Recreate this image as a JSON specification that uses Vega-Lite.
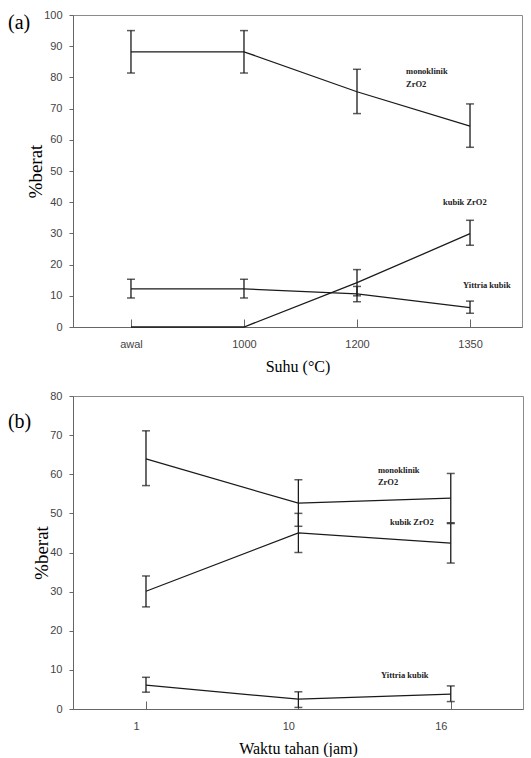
{
  "$schema": "https://vega.github.io/schema/vega-lite/v6.json",
  "padding": {"left": 7, "top": 8, "right": 0, "bottom": 0},
  "background": "white",
  "spacing": 14,
  "datasets": {
    "a": [
      {"s": "mono", "i": 0, "v": 88.2, "lo": 81.4, "hi": 95},
      {"s": "mono", "i": 1, "v": 88.2, "lo": 81.4, "hi": 95},
      {"s": "mono", "i": 2, "v": 75.4, "lo": 68.4, "hi": 82.6},
      {"s": "mono", "i": 3, "v": 64.4, "lo": 57.6, "hi": 71.5},
      {"s": "kubik", "i": 0, "v": 0, "lo": null, "hi": null},
      {"s": "kubik", "i": 1, "v": 0, "lo": null, "hi": null},
      {"s": "kubik", "i": 2, "v": 14.2, "lo": 10, "hi": 18.4},
      {"s": "kubik", "i": 3, "v": 29.9, "lo": 26.2, "hi": 34.2},
      {"s": "yittria", "i": 0, "v": 12.2, "lo": 9.3, "hi": 15.3},
      {"s": "yittria", "i": 1, "v": 12.2, "lo": 9.3, "hi": 15.3},
      {"s": "yittria", "i": 2, "v": 10.6, "lo": 8.1, "hi": 13},
      {"s": "yittria", "i": 3, "v": 6.2, "lo": 4.4, "hi": 8.3}
    ],
    "alab": [
      {"i": 2.434, "v": 82.1, "t": "monoklinik"},
      {"i": 2.434, "v": 77.8, "t": "ZrO2"},
      {"i": 2.761, "v": 40.1, "t": "kubik ZrO2"},
      {"i": 2.938, "v": 13.5, "t": "Yittria kubik"}
    ],
    "apanel": [{"i": -1.088, "v": 97.3, "t": "(a)"}],
    "b": [
      {"s": "mono", "i": 0, "v": 63.9, "lo": 57.1, "hi": 71.1},
      {"s": "mono", "i": 1, "v": 52.6, "lo": 46.7, "hi": 58.6},
      {"s": "mono", "i": 2, "v": 53.9, "lo": 47.6, "hi": 60.2},
      {"s": "kubik", "i": 0, "v": 30.1, "lo": 26.1, "hi": 34},
      {"s": "kubik", "i": 1, "v": 45, "lo": 40, "hi": 50},
      {"s": "kubik", "i": 2, "v": 42.4, "lo": 37.3, "hi": 47.4},
      {"s": "yittria", "i": 0, "v": 6.1, "lo": 4.3, "hi": 8.1},
      {"s": "yittria", "i": 1, "v": 2.5, "lo": 0.4, "hi": 4.4},
      {"s": "yittria", "i": 2, "v": 3.8, "lo": 1.9, "hi": 5.9}
    ],
    "blab": [
      {"i": 1.522, "v": 61.1, "t": "monoklinik"},
      {"i": 1.522, "v": 57.9, "t": "ZrO2"},
      {"i": 1.601, "v": 47.7, "t": "kubik ZrO2"},
      {"i": 1.542, "v": 8.7, "t": "Yittria kubik"}
    ],
    "bpanel": [{"i": -0.906, "v": 73.4, "t": "(b)"}]
  },
  "config": {
    "view": {"stroke": "#8a8a8a", "strokeWidth": 1},
    "axis": {
      "labelFont": "Liberation Sans",
      "labelFontSize": 11,
      "labelColor": "#444",
      "domainColor": "#666",
      "tickColor": "#666",
      "grid": false,
      "titleFont": "Liberation Serif",
      "titleFontWeight": "normal",
      "titleColor": "#000",
      "labelOverlap": false
    },
    "axisY": {"tickSize": 4, "labelPadding": 7, "titleFontSize": 19, "titlePadding": -2},
    "axisX": {"tickSize": -8, "labelPadding": 19, "titleFontSize": 16, "titlePadding": 9, "labelAngle": 0},
    "text": {"font": "Liberation Serif"}
  },
  "vconcat": [
    {
      "width": 449,
      "height": 312,
      "encoding": {
        "x": {"field": "i", "type": "quantitative", "scale": {"domain": [-0.513, 3.46], "nice": false, "zero": false},
          "axis": {"values": [0, 1, 2, 3], "labelExpr": "['awal','1000','1200','1350'][datum.value]", "title": "Suhu (°C)"}}
      },
      "layer": [
        {
          "data": {"name": "a"},
          "mark": {"type": "line", "color": "#1a1a1a", "strokeWidth": 1.3},
          "encoding": {
            "y": {"field": "v", "type": "quantitative", "scale": {"domain": [0, 100]},
              "axis": {"values": [0, 10, 20, 30, 40, 50, 60, 70, 80, 90, 100], "title": "%berat"}},
            "detail": {"field": "s"}
          }
        },
        {
          "data": {"name": "a"},
          "transform": [{"filter": "datum.lo != null"}],
          "mark": {"type": "rule", "color": "#1a1a1a", "strokeWidth": 1.3},
          "encoding": {
            "y": {"field": "lo", "type": "quantitative",
              "axis": {"values": [0, 10, 20, 30, 40, 50, 60, 70, 80, 90, 100], "title": "%berat"}},
            "y2": {"field": "hi"}
          }
        },
        {
          "data": {"name": "a"},
          "transform": [{"filter": "datum.lo != null"}],
          "mark": {"type": "tick", "color": "#1a1a1a", "size": 8, "thickness": 1.5, "orient": "horizontal"},
          "encoding": {
            "y": {"field": "lo", "type": "quantitative",
              "axis": {"values": [0, 10, 20, 30, 40, 50, 60, 70, 80, 90, 100], "title": "%berat"}}
          }
        },
        {
          "data": {"name": "a"},
          "transform": [{"filter": "datum.lo != null"}],
          "mark": {"type": "tick", "color": "#1a1a1a", "size": 8, "thickness": 1.5, "orient": "horizontal"},
          "encoding": {
            "y": {"field": "hi", "type": "quantitative",
              "axis": {"values": [0, 10, 20, 30, 40, 50, 60, 70, 80, 90, 100], "title": "%berat"}}
          }
        },
        {
          "data": {"name": "alab"},
          "mark": {"type": "text", "align": "left", "baseline": "middle", "fontWeight": "bold", "fontSize": 8.5, "color": "#222"},
          "encoding": {
            "y": {"field": "v", "type": "quantitative",
              "axis": {"values": [0, 10, 20, 30, 40, 50, 60, 70, 80, 90, 100], "title": "%berat"}},
            "text": {"field": "t"}
          }
        },
        {
          "data": {"name": "apanel"},
          "mark": {"type": "text", "align": "left", "baseline": "middle", "fontSize": 20, "color": "#000"},
          "encoding": {
            "y": {"field": "v", "type": "quantitative",
              "axis": {"values": [0, 10, 20, 30, 40, 50, 60, 70, 80, 90, 100], "title": "%berat"}},
            "text": {"field": "t"}
          }
        }
      ]
    },
    {
      "width": 450,
      "height": 313,
      "encoding": {
        "x": {"field": "i", "type": "quantitative", "scale": {"domain": [-0.479, 2.474], "nice": false, "zero": false},
          "axis": {"values": [0, 1, 2], "labelExpr": "['1','10','16'][datum.value]", "labelOffset": -10, "title": "Waktu tahan (jam)"}}
      },
      "layer": [
        {
          "data": {"name": "b"},
          "mark": {"type": "line", "color": "#1a1a1a", "strokeWidth": 1.3},
          "encoding": {
            "y": {"field": "v", "type": "quantitative", "scale": {"domain": [0, 80]},
              "axis": {"values": [0, 10, 20, 30, 40, 50, 60, 70, 80], "title": "%berat"}},
            "detail": {"field": "s"}
          }
        },
        {
          "data": {"name": "b"},
          "mark": {"type": "rule", "color": "#1a1a1a", "strokeWidth": 1.3},
          "encoding": {
            "y": {"field": "lo", "type": "quantitative",
              "axis": {"values": [0, 10, 20, 30, 40, 50, 60, 70, 80], "title": "%berat"}},
            "y2": {"field": "hi"}
          }
        },
        {
          "data": {"name": "b"},
          "mark": {"type": "tick", "color": "#1a1a1a", "size": 8, "thickness": 1.5, "orient": "horizontal"},
          "encoding": {
            "y": {"field": "lo", "type": "quantitative",
              "axis": {"values": [0, 10, 20, 30, 40, 50, 60, 70, 80], "title": "%berat"}}
          }
        },
        {
          "data": {"name": "b"},
          "mark": {"type": "tick", "color": "#1a1a1a", "size": 8, "thickness": 1.5, "orient": "horizontal"},
          "encoding": {
            "y": {"field": "hi", "type": "quantitative",
              "axis": {"values": [0, 10, 20, 30, 40, 50, 60, 70, 80], "title": "%berat"}}
          }
        },
        {
          "data": {"name": "blab"},
          "mark": {"type": "text", "align": "left", "baseline": "middle", "fontWeight": "bold", "fontSize": 8.5, "color": "#222"},
          "encoding": {
            "y": {"field": "v", "type": "quantitative",
              "axis": {"values": [0, 10, 20, 30, 40, 50, 60, 70, 80], "title": "%berat"}},
            "text": {"field": "t"}
          }
        },
        {
          "data": {"name": "bpanel"},
          "mark": {"type": "text", "align": "left", "baseline": "middle", "fontSize": 20, "color": "#000"},
          "encoding": {
            "y": {"field": "v", "type": "quantitative",
              "axis": {"values": [0, 10, 20, 30, 40, 50, 60, 70, 80], "title": "%berat"}},
            "text": {"field": "t"}
          }
        }
      ]
    }
  ]
}
